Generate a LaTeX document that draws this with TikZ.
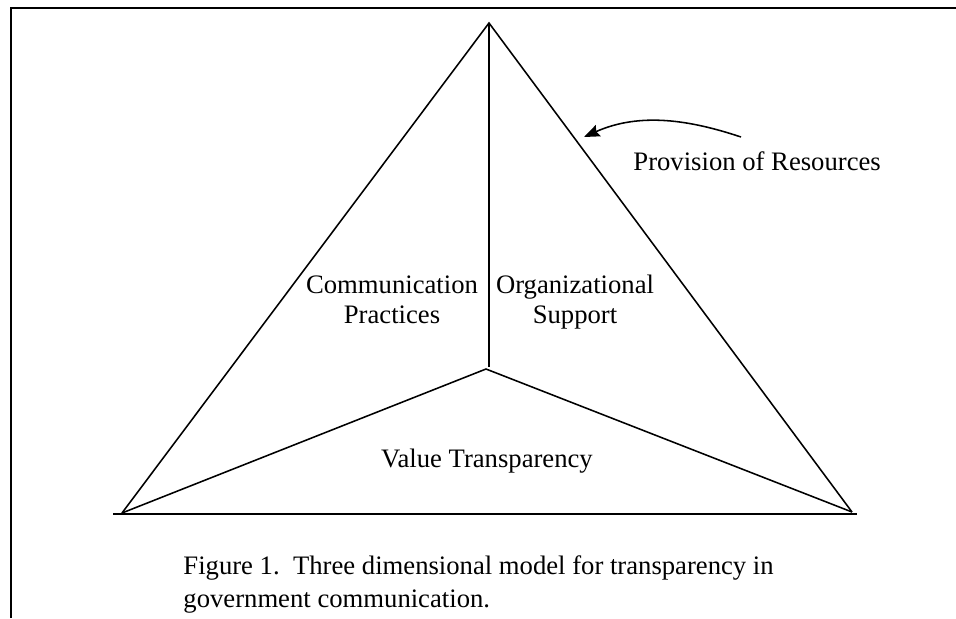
\documentclass[tikz,border=0pt]{standalone}
\usepackage{fontspec}
\setmainfont{Liberation Serif}
\usetikzlibrary{arrows.meta}
\begin{document}
\begin{tikzpicture}[x=0.45pt,y=-0.45pt]

    \tikzset{
      side/.style={
        line width=0.7pt,
        draw,
      },
      label/.style={
        inner sep=0pt,
        font=\fontsize{12}{13.5}\selectfont,
        align=center,
      },
    }
    \useasboundingbox (0,0) rectangle (956,618);
	% frame
	\draw[color={black},line width=1.1pt] (11,618)--(11,8)--(956,8);
	% corners of the pyramid
	\coordinate (apex) at (489,23);
	\coordinate (stem) at (489,367);
	\coordinate (inner) at (486,369);
	\coordinate (left) at (122,513);
	\coordinate (right) at (852,512);
	\coordinate (baseL) at (113,514);
	\coordinate (baseR) at (857,514);
	\draw[side] (left)--(apex)--(right);
	\draw[side] (apex)--(stem);
	\draw[side] (left)--(inner)--(right);
	\draw[color={black},line width=1.3pt] (baseL)--(baseR);
	% faces
	\node[label,anchor=base] (comm) at (392,323) {Communication\\Practices};
	\node[label,anchor=base] (orga) at (575,323) {Organizational\\Support};
	\node[label,anchor=base] (value) at (487,467) {Value Transparency};
	% resources
	\node[label,anchor=base west] (prov) at (633,170) {Provision of Resources};
	\coordinate (tail) at (741,137);
	\coordinate (tip) at (584,137);
	\draw[color={black},line width=0.7pt,-{Stealth[length=7pt,width=5.5pt,inset=1pt]}] (tail) .. controls (690,120) and (640,112) .. (tip);
	% caption
	\node[label,anchor=base west,align=left,font=\fontsize{12}{14.85}\selectfont] (caption) at (183,607) {Figure 1.\ \ Three dimensional model for transparency in\\government communication.};

\end{tikzpicture}
\end{document}
